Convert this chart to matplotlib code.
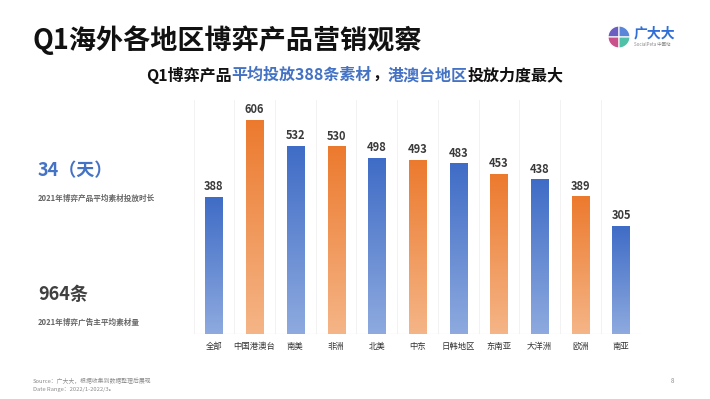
import matplotlib
matplotlib.use("Agg")
import matplotlib.pyplot as plt
import numpy as np
from matplotlib.colors import LinearSegmentedColormap
from matplotlib.patches import Wedge

plt.rcParams['font.family'] = ['Noto Sans CJK SC', 'DejaVu Sans']

categories = ["全部", "中国港澳台", "南美", "非洲", "北美", "中东", "日韩地区", "东南亚", "大洋洲", "欧洲", "南亚"]
values = [388, 606, 532, 530, 498, 493, 483, 453, 438, 389, 305]
series_kind = ["blue", "orange", "blue", "orange", "blue", "orange", "blue", "orange", "blue", "orange", "blue"]

W, H = 710, 399
fig = plt.figure(figsize=(W / 100, H / 100), dpi=100)
fig.patch.set_facecolor("white")

def fx(px):
    return px / W

def fy(py):
    return 1 - py / H

ax = fig.add_axes([fx(193.6), fy(334), (641.4 - 193.6) / W, 234 / H])
for s in ax.spines.values():
    s.set_visible(False)
ax.set_yticks([])
ax.set_xticks(range(len(categories)))
ax.set_xticklabels(categories, fontsize=6, color="#333333")
ax.tick_params(axis="x", length=0, pad=6)

for b in np.arange(-0.5, len(categories), 1.0):
    ax.axvline(b, color="#f0f0f0", lw=0.6, zorder=0)
ax.axhline(0, color="#d9d9d9", lw=0.8, zorder=1)

cmaps = {
    "blue": LinearSegmentedColormap.from_list("b", ["#8EAADF", "#3F6CC6"]),
    "orange": LinearSegmentedColormap.from_list("o", ["#F5B587", "#EC7A2E"]),
}
bw = 0.42
grad = np.linspace(0, 1, 256).reshape(-1, 1)
for i, (v, k) in enumerate(zip(values, series_kind)):
    ax.bar(i, v, width=bw, color="none", zorder=2)
    ax.imshow(grad, cmap=cmaps[k], origin="lower", aspect="auto",
              extent=[i - bw / 2, i + bw / 2, 0, v], zorder=2)
    ax.text(i, v + 11, f"{v}", ha="center", va="bottom", fontsize=8,
            fontweight="bold", color="#3a3a3a")
ax.set_xlim(-0.5, len(categories) - 0.5)
ax.set_ylim(0, 663)

# Title
fig.text(fx(33), fy(40), "Q1海外各地区博弈产品营销观察", fontsize=19.5, fontweight=900,
         color="#111111", va="center", ha="left")

# Subtitle with mixed colors
pieces = [("Q1博弈产品", "#111111"), ("平均投放388条素材", "#4472C4"), ("，", "#111111"),
          ("港澳台地区", "#4472C4"), ("投放力度最大", "#111111")]
fig.canvas.draw()
r = fig.canvas.get_renderer()
tmp = []
for t, c in pieces:
    tt = fig.text(0, 0, t, fontsize=11.5, fontweight=900, color=c, va="center")
    tmp.append(tt)
widths = [tt.get_window_extent(r).width for tt in tmp]
total = sum(widths)
x0 = 355 - total / 2
for tt, w in zip(tmp, widths):
    tt.set_position((fx(x0), fy(75)))
    x0 += w

# Left stats
fig.text(fx(38), fy(171), "34（天）", fontsize=13, fontweight="bold", color="#4472C4", va="center")
fig.text(fx(38), fy(198), "2021年博弈产品平均素材投放时长", fontsize=5.5, fontweight="bold",
         color="#666666", va="center")
fig.text(fx(38), fy(294), "964条", fontsize=13, fontweight="bold", color="#404040", va="center")
fig.text(fx(38), fy(322), "2021年博弈广告主平均素材量", fontsize=5.5, fontweight="bold",
         color="#666666", va="center")

# Footer
fig.text(fx(33), fy(381), "Source：广大大，根据收集到数据整理后展现", fontsize=4.2, color="#8c8c8c", va="center")
fig.text(fx(33), fy(389), "Date Range：2022/1-2022/3。", fontsize=4.2, color="#8c8c8c", va="center")
fig.text(fx(672), fy(381), "8", fontsize=4.5, color="#8c8c8c", va="center", ha="center")

# Logo
lax = fig.add_axes([0, 0, 1, 1], facecolor="none")
lax.set_xlim(0, W)
lax.set_ylim(H, 0)
lax.set_aspect("equal")
lax.axis("off")
cx, cy, rr = 619, 37, 11
# angles in display (y inverted): wedges defined in data coords
logo = [((180, 270), "#6A5FC0"), ((270, 360), "#5A86DA"), ((90, 180), "#C9508A"), ((0, 90), "#4FC1A8")]
for (a1, a2), col in logo:
    lax.add_patch(Wedge((cx, cy), rr, a1, a2, facecolor=col, edgecolor="white", lw=0.8))
fig.text(fx(634), fy(33), "广大大", fontsize=10, fontweight="bold", color="#2F6FD6", va="center")
fig.text(fx(634), fy(44), "SocialPeta 中国站", fontsize=3.2, color="#888888", va="center")

fig.savefig("out.png", dpi=100, facecolor="white")
